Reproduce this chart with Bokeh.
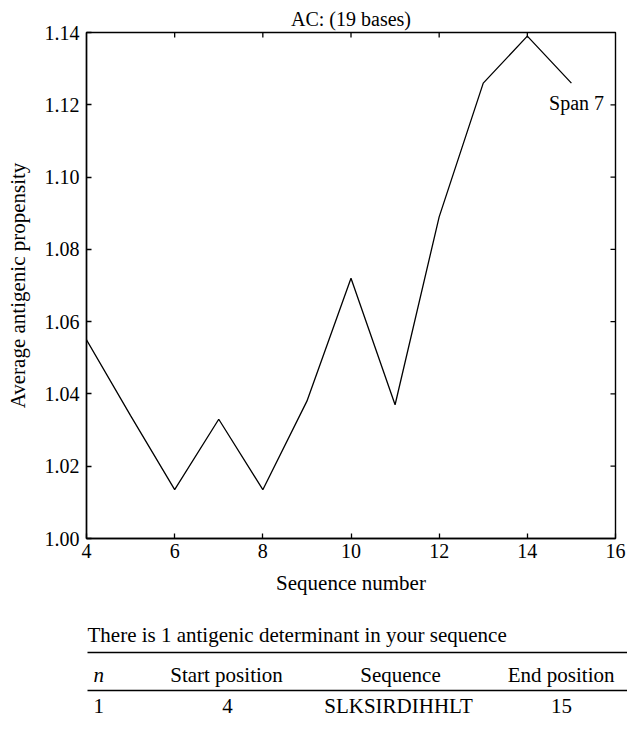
import math
from bokeh.plotting import figure
from bokeh.models import (Range1d, FixedTicker, NumeralTickFormatter, Label, ColumnDataSource)
from bokeh.layouts import column
from bokeh.core.properties import value
from bokeh.embed import file_html
from bokeh.resources import INLINE

# ---- data ----
seq_number = [4, 5, 6, 7, 8, 9, 10, 11, 12, 13, 14, 15]
propensity = [1.055, 1.034, 1.0135, 1.033, 1.0135, 1.038, 1.072, 1.037, 1.089, 1.126, 1.139, 1.126]
x_ticks = [4, 6, 8, 10, 12, 14, 16]
y_ticks = [1.00, 1.02, 1.04, 1.06, 1.08, 1.10, 1.12, 1.14]
chart_title = "AC: (19 bases)"
span_label = "Span 7"
table_caption = "There is 1 antigenic determinant in your sequence"
table_header = ["n", "Start position", "Sequence", "End position"]
table_row = ["1", "4", "SLKSIRDIHHLT", "15"]

FONT = "Liberation Serif"
FS = "21px"
TICK_FS = "20px"

p = figure(width=627, height=615, x_range=Range1d(x_ticks[0], x_ticks[-1]),
           y_range=Range1d(y_ticks[0], y_ticks[-1]),
           output_backend="svg", toolbar_location=None, title=chart_title,
           min_border_left=86, min_border_right=12, min_border_top=32, min_border_bottom=77)
p.title.align = "center"
p.title.vertical_align = "top"
p.title.text_font = FONT
p.title.text_font_size = "20px"
p.title.text_font_style = "normal"
p.title.text_color = "black"
p.title.offset = 0
p.title.standoff = 2
p.grid.visible = False
p.outline_line_color = "black"
p.outline_line_width = 1.4

p.line(seq_number, propensity, line_color="black", line_width=1.3)

def style_axis(ax):
    ax.axis_line_color = "black"
    ax.axis_line_width = 1.4
    ax.major_tick_in = 5
    ax.major_tick_out = 0
    ax.major_tick_line_width = 1.3
    ax.minor_tick_line_color = None
    ax.major_label_text_font = FONT
    ax.major_label_text_font_size = TICK_FS
    ax.major_label_text_color = "black"
    ax.axis_label_text_font = FONT
    ax.axis_label_text_font_size = FS
    ax.axis_label_text_font_style = "normal"
    ax.axis_label_text_color = "black"

xa = p.xaxis[0]
xa.ticker = FixedTicker(ticks=x_ticks)
xa.axis_label = "Sequence number"
style_axis(xa)
xa.major_label_standoff = 5
xa.axis_label_standoff = 10

ya = p.yaxis[0]
ya.ticker = FixedTicker(ticks=y_ticks)
ya.formatter = NumeralTickFormatter(format="0.00")
ya.axis_label = "Average antigenic propensity"
style_axis(ya)
ya.major_label_standoff = 7
ya.axis_label_standoff = 12

# mirrored inward ticks on the top and right edges
inner_x = x_ticks[1:-1]
inner_y = y_ticks[1:-1]
p.scatter(x=inner_x, y=[y_ticks[-1]] * len(inner_x), marker="dash", angle=math.pi / 2,
          size=10, line_color="black", line_width=1.3)
p.scatter(x=[x_ticks[-1]] * len(inner_y), y=inner_y, marker="dash",
          size=10, line_color="black", line_width=1.3)

p.add_layout(Label(x=15.74, y=1.1205, text=span_label, text_align="right",
                   text_baseline="middle", text_font=FONT, text_font_size="20px",
                   text_color="black"))

# ---- table ----
t = figure(width=627, height=110, x_range=Range1d(0, 627), y_range=Range1d(110, 0),
           output_backend="svg", toolbar_location=None, min_border=0)
t.axis.visible = False
t.grid.visible = False
t.outline_line_color = None

col_x = [93, 226, 400, 614]
col_align = ["left", "center", "center", "right"]
t.text(x=[87], y=[19], text=[table_caption], text_font=value(FONT), text_font_size=FS,
       text_baseline="middle", text_align="left", text_color="black")
t.segment(x0=[87, 87], y0=[37, 75], x1=[627, 627], y1=[37, 75], line_color="black", line_width=1.5)
t.text(x="x", y="y", text="text", text_align="align",
       source=ColumnDataSource(dict(x=col_x[:1], y=[59], text=table_header[:1], align=col_align[:1])),
       text_font=value(FONT), text_font_size=FS, text_font_style="italic",
       text_baseline="middle", text_color="black")
t.text(x="x", y="y", text="text", text_align="align",
       source=ColumnDataSource(dict(x=col_x[1:], y=[59] * 3, text=table_header[1:], align=col_align[1:])),
       text_font=value(FONT), text_font_size=FS, text_baseline="middle", text_color="black")
row_x = [93, 227, 398, 561]
row_align = ["left", "center", "center", "center"]
t.text(x="x", y="y", text="text", text_align="align",
       source=ColumnDataSource(dict(x=row_x, y=[90] * 4, text=table_row, align=row_align)),
       text_font=value(FONT), text_font_size=FS, text_baseline="middle", text_color="black")

layout = column(p, column(t), spacing=0)
open("out.html", "w").write(file_html(layout, INLINE))
